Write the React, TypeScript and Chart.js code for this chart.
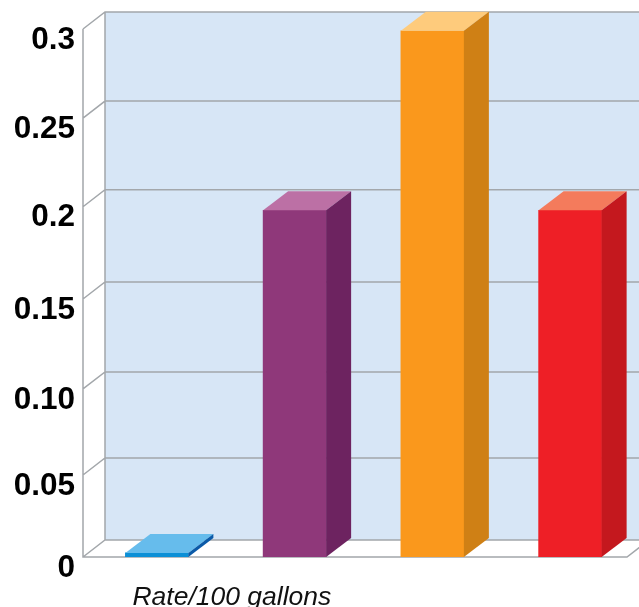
import React, { useEffect, useRef } from "react";
import { Chart, registerables } from "chart.js";

Chart.register(...registerables);

const categories = ["Rate/100 gallons", "", "", ""];
const rates = [0.0023, 0.197, 0.299, 0.197];
const frontColors = ["#0b8fd6", "#8f387a", "#fa981c", "#ee1f26"];
const topColors = ["#66bcec", "#bc70a5", "#fecb7c", "#f47b5c"];
const sideColors = ["#0b5aa8", "#6d2360", "#cf8015", "#c4181e"];
const tickValues = [0, 0.0466, 0.0955, 0.1466, 0.199, 0.2494, 0.3];
const tickLabels = ["0", "0.05", "0.10", "0.15", "0.2", "0.25", "0.3"];

const WALL_DX = 22;
const WALL_DY = 17;
const BAR_DX = 25;
const BAR_DY = 19;
const FLOOR_OVERHANG = 5;
const GRID = "#a3a7ab";

function poly(ctx: CanvasRenderingContext2D, pts: number[][], fill?: string, stroke?: string) {
  ctx.beginPath();
  pts.forEach((p, i) => (i ? ctx.lineTo(p[0], p[1]) : ctx.moveTo(p[0], p[1])));
  ctx.closePath();
  if (fill) {
    ctx.fillStyle = fill;
    ctx.fill();
  }
  if (stroke) {
    ctx.strokeStyle = stroke;
    ctx.stroke();
  }
}

const walls3d = {
  id: "walls3d",
  beforeDatasetsDraw(chart: any) {
    const { ctx, chartArea, scales } = chart;
    const y = scales.y;
    const left = chartArea.left - FLOOR_OVERHANG;
    const right = chart.width + WALL_DX + 10;
    const bottom = y.getPixelForValue(0);
    const top = y.getPixelForValue(0.3);
    const frontRight = chart.width - 12;
    ctx.save();
    ctx.lineWidth = 1.5;
    poly(ctx, [[left + WALL_DX, top - WALL_DY], [right, top - WALL_DY], [right, bottom - WALL_DY], [left + WALL_DX, bottom - WALL_DY]], "#d7e6f6");
    poly(ctx, [[left, bottom], [frontRight, bottom], [frontRight + WALL_DX, bottom - WALL_DY], [left + WALL_DX, bottom - WALL_DY]], "#ffffff");
    ctx.strokeStyle = GRID;
    ctx.beginPath();
    ctx.moveTo(left, top);
    ctx.lineTo(left, bottom);
    ctx.lineTo(frontRight, bottom);
    ctx.lineTo(frontRight + WALL_DX, bottom - WALL_DY);
    ctx.moveTo(left + WALL_DX, top - WALL_DY);
    ctx.lineTo(left + WALL_DX, bottom - WALL_DY);
    y.ticks.forEach((t: any) => {
      const py = y.getPixelForValue(t.value);
      ctx.moveTo(left, py);
      ctx.lineTo(left + WALL_DX, py - WALL_DY);
      ctx.lineTo(right, py - WALL_DY);
    });
    ctx.stroke();
    ctx.restore();
  },
  afterDatasetsDraw(chart: any) {
    const { ctx } = chart;
    const base = chart.getDatasetMeta(0).data;
    ctx.save();
    base.forEach((bar: any, i: number) => {
      const l = bar.x - bar.width / 2;
      const r = bar.x + bar.width / 2;
      const t = bar.y;
      const b = bar.base;
      poly(ctx, [[l, t], [r, t], [r + BAR_DX, t - BAR_DY], [l + BAR_DX, t - BAR_DY]], topColors[i]);
      poly(ctx, [[r, t], [r + BAR_DX, t - BAR_DY], [r + BAR_DX, b - BAR_DY], [r, b]], sideColors[i]);
    });
    ctx.restore();
  },
};

export default function App() {
  const ref = useRef<HTMLCanvasElement>(null);
  useEffect(() => {
    const chart = new Chart(ref.current!, {
      type: "bar",
      plugins: [walls3d],
      data: {
        labels: categories,
        datasets: [{ data: rates, backgroundColor: frontColors, barThickness: 63, borderWidth: 0 }],
      },
      options: {
        responsive: false,
        animation: false,
        devicePixelRatio: 1,
        layout: { padding: { top: 29, right: 0, left: 0, bottom: 0 } },
        plugins: { legend: { display: false }, tooltip: { enabled: false }, title: { display: false } },
        scales: {
          x: {
            grid: { display: false },
            border: { display: false },
            afterFit(s: any) {
              s.height = 50;
            },
            ticks: {
              autoSkip: false,
              maxRotation: 0,
              labelOffset: 75,
              padding: 17,
              color: "#111111",
              font: { family: "Liberation Sans", style: "italic", size: 26.5 },
            },
          },
          y: {
            min: 0,
            max: 0.3,
            grid: { display: false, drawTicks: false },
            border: { display: false },
            afterFit(s: any) {
              s.width = 88;
              s.paddingTop = 0;
              s.paddingBottom = 0;
            },
            afterBuildTicks(s: any) {
              s.ticks = tickValues.map((value) => ({ value }));
            },
            ticks: {
              padding: 13,
              labelOffset: 11,
              color: "#000000",
              font: { family: "Liberation Sans", weight: "bold", size: 31.5 },
              callback: (_v: any, i: number) => tickLabels[i],
            },
          },
        },
      },
    });
    return () => chart.destroy();
  }, []);
  return (
    <canvas
      ref={ref}
      width={639}
      height={607}
      style={{ position: "fixed", left: 0, top: 0, width: 639, height: 607, display: "block" }}
    />
  );
}
